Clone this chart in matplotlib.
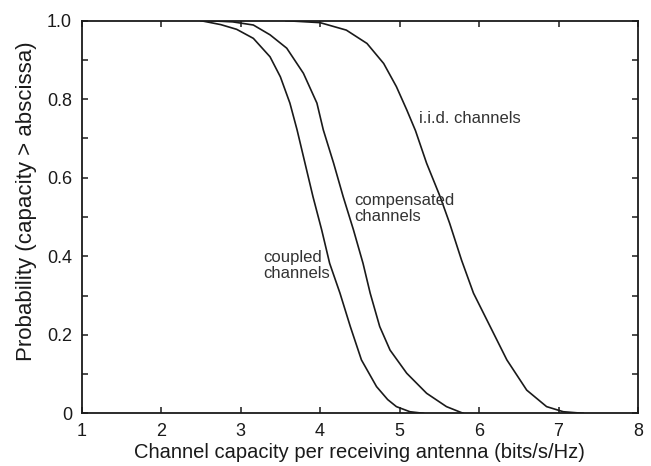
import numpy as np
import matplotlib.pyplot as plt
from matplotlib.ticker import MultipleLocator

plt.rcParams['font.family'] = ['Liberation Sans', 'DejaVu Sans']

# complementary CDF of capacity: (capacity, probability) pairs for each channel model
coupled_x = [2.50, 2.75, 2.95, 3.16, 3.37, 3.50, 3.62, 3.71, 3.81, 3.91, 4.02, 4.12,
             4.25, 4.38, 4.52, 4.71, 4.85, 4.96, 5.13, 5.30]
coupled_p = [1.000, 0.990, 0.978, 0.955, 0.908, 0.857, 0.790, 0.722, 0.637, 0.552, 0.467, 0.382,
             0.306, 0.221, 0.136, 0.068, 0.035, 0.017, 0.004, 0.000]

compensated_x = [2.60, 2.90, 3.16, 3.37, 3.58, 3.79, 3.96, 4.04, 4.17, 4.29, 4.42, 4.54,
                 4.63, 4.75, 4.88, 5.09, 5.34, 5.59, 5.80]
compensated_p = [1.000, 0.997, 0.989, 0.964, 0.930, 0.866, 0.790, 0.722, 0.637, 0.552, 0.467, 0.382,
                 0.306, 0.221, 0.161, 0.102, 0.051, 0.017, 0.000]

iid_x = [3.57, 4.00, 4.33, 4.59, 4.80, 4.96, 5.09, 5.20, 5.34, 5.51, 5.63, 5.78,
         5.93, 6.14, 6.35, 6.60, 6.85, 7.06, 7.31]
iid_p = [1.000, 0.995, 0.976, 0.942, 0.891, 0.832, 0.773, 0.720, 0.637, 0.552, 0.484, 0.390,
         0.306, 0.221, 0.136, 0.059, 0.017, 0.004, 0.000]

fig = plt.figure(figsize=(6.51, 4.66), dpi=100)
ax = fig.add_axes([0.1255, 0.1131, 0.8545, 0.8425])

for xs, ps in [(coupled_x, coupled_p), (compensated_x, compensated_p), (iid_x, iid_p)]:
    ax.plot(xs, ps, color='#1a1a1a', lw=1.2)

lbl = dict(fontsize=12, va='center', color='#333333', linespacing=1.1)
ax.text(5.24, 0.751, 'i.i.d. channels', **lbl)
ax.text(4.43, 0.521, 'compensated\nchannels', **lbl)
ax.text(3.28, 0.376, 'coupled\nchannels', **lbl)

ax.set_xlim(1, 8)
ax.set_ylim(0, 1)
ax.set_xticks(range(1, 9))
ax.set_yticks([0, 0.2, 0.4, 0.6, 0.8, 1.0])
ax.set_yticklabels(['0', '0.2', '0.4', '0.6', '0.8', '1.0'])
ax.yaxis.set_minor_locator(MultipleLocator(0.1))
ax.tick_params(which='both', direction='in', top=True, right=True, labelsize=13,
               width=1.1, length=4.5, colors='#1a1a1a')
ax.tick_params(axis='x', pad=7)
ax.tick_params(axis='y', pad=7)
for s in ax.spines.values():
    s.set_linewidth(1.3)
    s.set_color('#1a1a1a')

ax.set_xlabel('Channel capacity per receiving antenna (bits/s/Hz)', fontsize=14.5,
              labelpad=2, color='#1a1a1a')
ax.set_ylabel('Probability (capacity > abscissa)', fontsize=16, labelpad=6, color='#1a1a1a')
ax.yaxis.set_label_coords(-0.08, 0.54)

fig.savefig('out.png')
